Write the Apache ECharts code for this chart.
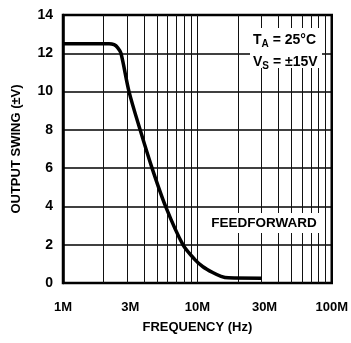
<!DOCTYPE html>
<html><head><meta charset="utf-8">
<script src="https://cdn.jsdelivr.net/npm/echarts@6/dist/echarts.min.js"></script>
<style>html,body{margin:0;padding:0;background:#fff}#c{width:351px;height:343px}</style>
</head><body><div id="c"></div>
<script>
// Data (frequency in Hz, output swing in ±V)
const frequency = [1e6, 2.2e6, 2.4e6, 2.55e6, 2.7e6, 3.1e6, 3.75e6, 4.6e6, 5.8e6, 7.8e6, 9.5e6, 11e6, 13e6, 15e6, 17e6, 30e6];
const outputSwing = [12.5, 12.5, 12.45, 12.3, 12.0, 10, 8, 6, 4, 2, 1.25, 0.85, 0.55, 0.35, 0.27, 0.25];
const xTickLabels = ['1M', '3M', '10M', '30M', '100M'];
const yTicks = [0, 2, 4, 6, 8, 10, 12, 14];
const gridFreqs = [2e6, 3e6, 4e6, 5e6, 6e6, 7e6, 8e6, 9e6, 1e7, 2e7, 3e7, 4e7, 5e7, 6e7, 7e7, 8e7, 9e7];

const FONT = '"Liberation Sans", Arial, sans-serif';
const chart = echarts.init(document.getElementById('c'), null, {renderer: 'canvas'});
chart.setOption({
  backgroundColor: '#fff',
  animation: false,
  grid: {left: 63, right: 19, top: 15, bottom: 60, show: true, borderColor: '#000', borderWidth: 2.5, backgroundColor: 'transparent'},
  xAxis: {
    type: 'log', logBase: Math.sqrt(10), min: 1e6, max: 1e8,
    name: 'FREQUENCY (Hz)', nameLocation: 'middle', nameGap: 38,
    nameTextStyle: {fontFamily: FONT, fontWeight: 'bold', fontSize: 13, color: '#000'},
    axisLine: {show: true, lineStyle: {color: '#000', width: 2}},
    axisTick: {show: false},
    splitLine: {show: false},
    axisLabel: {
      fontFamily: FONT, fontWeight: 'bold', fontSize: 13, color: '#000', margin: 18,
      formatter: function (v) {
        const e = Math.round(Math.log(v / 1e6) / Math.log(Math.sqrt(10)));
        return xTickLabels[e] || '';
      }
    }
  },
  yAxis: {
    type: 'value', min: 0, max: 14, interval: 2,
    name: 'OUTPUT SWING (±V)', nameLocation: 'middle', nameGap: 40,
    nameTextStyle: {fontFamily: FONT, fontWeight: 'bold', fontSize: 13, color: '#000'},
    axisLine: {show: true, lineStyle: {color: '#000', width: 2.5}},
    axisTick: {show: false},
    splitLine: {show: true, lineStyle: {color: '#000', width: 1.5}},
    axisLabel: {
      fontFamily: FONT, fontWeight: 'bold', fontSize: 14, color: '#000', margin: 10,
      formatter: function (v) { return yTicks.indexOf(v) >= 0 ? String(v) : ''; }
    }
  },
  series: [{
    type: 'line',
    data: frequency.map((f, i) => [f, outputSwing[i]]),
    smooth: 0.3,
    showSymbol: false,
    lineStyle: {color: '#000', width: 3.5},
    z: 5,
    markLine: {
      silent: true, symbol: 'none', animation: false,
      label: {show: false},
      lineStyle: {color: '#111', width: 1, type: 'solid'},
      data: gridFreqs.map(f => ({xAxis: f}))
    }
  }],
  graphic: [
    {type: 'rect', z: 100, shape: {x: 250, y: 28, width: 72, height: 40}, style: {fill: '#fff'}},
    {type: 'text', z: 101, x: 253, y: 31, style: {
      text: '{m|T}{s|A}{m| = 25°C}',
      rich: {
        m: {fontFamily: FONT, fontWeight: 'bold', fontSize: 14, fill: '#000'},
        s: {fontFamily: FONT, fontWeight: 'bold', fontSize: 10, fill: '#000', padding: [8, 0, 0, 0]}
      }
    }},
    {type: 'text', z: 101, x: 253, y: 53, style: {
      text: '{m|V}{s|S}{m| = ±15V}',
      rich: {
        m: {fontFamily: FONT, fontWeight: 'bold', fontSize: 14, fill: '#000'},
        s: {fontFamily: FONT, fontWeight: 'bold', fontSize: 10, fill: '#000', padding: [8, 0, 0, 0]}
      }
    }},
    {type: 'rect', z: 100, shape: {x: 205, y: 213, width: 117, height: 20}, style: {fill: '#fff'}},
    {type: 'text', z: 101, x: 264, y: 223, style: {
      text: 'FEEDFORWARD', fontFamily: FONT, fontWeight: 'bold', fontSize: 13.5, fill: '#000',
      align: 'center', verticalAlign: 'middle'
    }}
  ]
});
</script>
</body></html>
